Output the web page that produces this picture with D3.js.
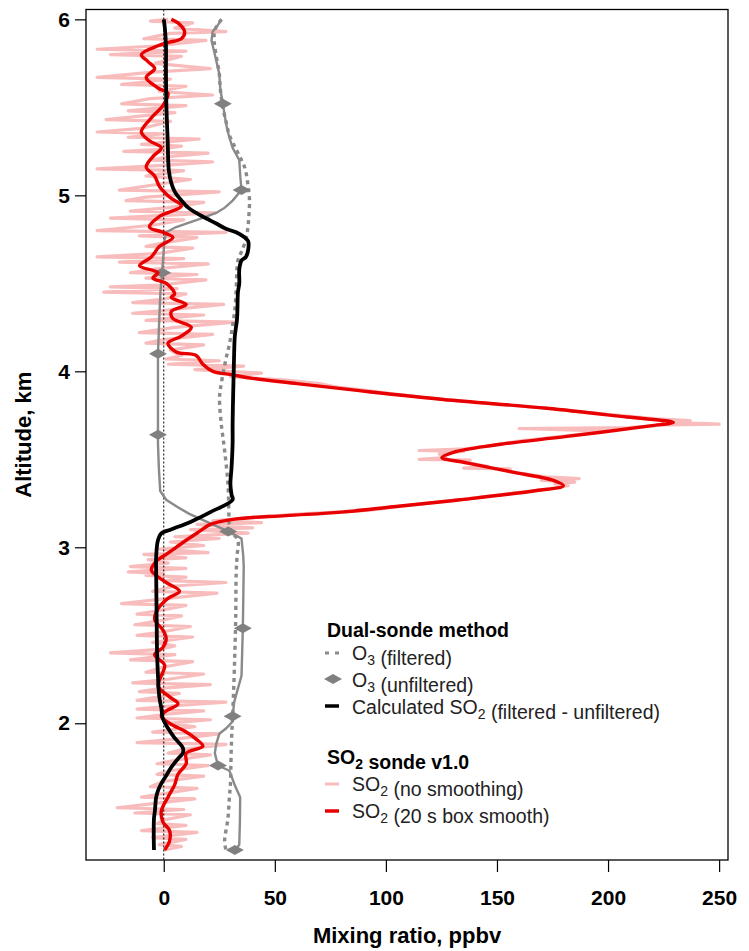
<!DOCTYPE html>
<html>
<head>
<meta charset="utf-8">
<script src="https://cdn.jsdelivr.net/npm/d3@7"></script>
<style>
  body { margin: 0; background: #fff; }
  svg { font-family: "Liberation Sans", Arial, sans-serif; }
</style>
</head>
<body>
<svg id="chart" width="749" height="951"></svg>
<script>
// altitude (km), mixing ratio (ppbv)
var so2Raw = [
  [6.00, 2], [5.99, -6], [5.98, 13], [5.95, 5], [5.93, 28], [5.92, 3], [5.89, -9], [5.88, 19], [5.85, -2], [5.83, -30],
  [5.82, 10], [5.80, -24], [5.79, 8], [5.75, -4], [5.72, 21], [5.70, -5], [5.67, -30], [5.66, 3], [5.63, -19], [5.62, 10],
  [5.59, -2], [5.57, 22], [5.55, -6], [5.52, -19], [5.51, 10], [5.48, -16], [5.47, 5], [5.43, -26], [5.42, 3], [5.38, -10],
  [5.36, -30], [5.35, 0], [5.33, -16], [5.32, 16], [5.29, -10], [5.28, 8], [5.26, -3],
  [5.25, -18], [5.24, 20], [5.22, 2], [5.20, -5], [5.19, 22], [5.17, 0], [5.15, -30], [5.14, 9], [5.11, -8], [5.09, 12],
  [5.06, -4], [5.03, -20], [5.02, 25], [4.99, -8], [4.97, -17], [4.96, 18], [4.93, 2], [4.91, -15], [4.90, 23], [4.87, -24],
  [4.86, 9], [4.83, -5], [4.80, -30], [4.79, 28], [4.77, -11], [4.76, 15], [4.73, 0], [4.71, -8], [4.70, 13], [4.67, -2],
  [4.65, -30], [4.64, 9], [4.62, -20], [4.61, 20], [4.58, -5], [4.56, -15], [4.55, 15], [4.53, -8], [4.52, 19], [4.49, -2],
  [4.48, -24], [4.47, 6],
  [4.45, -27], [4.44, 10], [4.41, 0], [4.39, -14], [4.38, 27], [4.35, 3], [4.33, -14], [4.32, 18], [4.29, -8], [4.28, 32],
  [4.25, 5], [4.22, -11], [4.21, 22], [4.18, 0], [4.16, -8], [4.15, 18], [4.12, 3], [4.09, 8], [4.07, 1], [4.06, 25],
  [4.04, 2], [4.03, 36], [4.01, 14], [3.99, 44], [3.97, 30], [3.95, 55], [3.93, 70],
  [3.91, 78], [3.89, 92], [3.87, 104], [3.85, 118], [3.83, 135], [3.81, 152], [3.79, 172], [3.77, 188], [3.75, 205],
  [3.73, 222], [3.72, 237], [3.71, 229], [3.70, 250], [3.695, 226], [3.68, 209], [3.675, 160], [3.66, 200], [3.64, 186],
  [3.62, 172], [3.60, 158], [3.58, 148], [3.56, 136], [3.55, 115], [3.545, 135], [3.53, 124], [3.51, 127], [3.50, 115],
  [3.495, 138], [3.48, 136], [3.46, 146], [3.45, 135], [3.445, 156], [3.43, 156], [3.41, 166], [3.40, 172], [3.39, 187],
  [3.38, 170], [3.37, 185], [3.36, 176], [3.35, 182], [3.33, 172], [3.31, 158], [3.29, 146], [3.27, 132], [3.25, 118],
  [3.23, 104], [3.21, 92], [3.19, 62], [3.17, 40], [3.15, 22],
  [3.14, 44], [3.13, 15], [3.11, 40], [3.10, 12], [3.08, 38], [3.06, 5], [3.05, 25], [3.03, 3], [3.01, 18], [2.99, -2],
  [2.97, 20], [2.96, -9], [2.94, 10], [2.93, -7], [2.91, 2], [2.89, -15], [2.88, 10], [2.86, -16], [2.85, 0],
  [2.84, -8], [2.83, 10], [2.81, 1], [2.80, 28], [2.78, 5], [2.75, -5], [2.74, 24], [2.71, 2], [2.68, -19], [2.67, 10],
  [2.64, -2], [2.62, -12], [2.61, 8], [2.58, -3], [2.56, -13], [2.55, 12], [2.52, 0], [2.50, -12], [2.49, 13], [2.46, -5],
  [2.44, 5], [2.42, -2], [2.40, -24], [2.39, 5], [2.36, -15], [2.35, 13], [2.32, 0], [2.29, -8], [2.28, 18], [2.25, 2],
  [2.23, -14], [2.22, 21], [2.20, 0], [2.18, -11], [2.17, 7], [2.15, -2], [2.13, -12], [2.12, 28], [2.10, 5], [2.08, -12],
  [2.07, 18], [2.05, 0],
  [2.03, -12], [2.02, 21], [2.00, 2], [1.98, 14], [1.95, -5], [1.94, 25], [1.91, 5], [1.89, -12], [1.88, 28], [1.85, 8],
  [1.83, 2], [1.82, 21], [1.79, 5], [1.77, -3], [1.76, 20], [1.73, 3], [1.71, -3], [1.70, 18], [1.67, 0], [1.64, -6],
  [1.63, 15], [1.60, 0], [1.58, -10], [1.57, 14], [1.55, 0], [1.52, -21], [1.51, 9], [1.49, -13], [1.48, 12], [1.45, 0],
  [1.43, -3], [1.42, 10], [1.39, -10], [1.38, 15], [1.35, -5], [1.34, 10], [1.31, -2], [1.30, 8], [1.28, 0]
];

var so2Smooth = [
  [6.00, 3.4], [5.98, 6.4], [5.93, 9.4], [5.89, 7.9], [5.87, 2.6], [5.85, -2.6], [5.80, -10.1], [5.76, -7.1], [5.72, -4.1],
  [5.67, -7.9], [5.61, -2.6], [5.58, 1.9], [5.51, -0.4], [5.44, -5.6], [5.36, -10.1], [5.31, -6.4], [5.27, -1.1],
  [5.22, -4.9], [5.16, -7.9], [5.11, -4.1], [5.05, -1.9], [4.99, 2.6], [4.94, 7.9], [4.88, -1.9], [4.82, -6.4],
  [4.79, -0.4], [4.76, 4.1], [4.71, -1.9], [4.65, -5.6], [4.60, -10.9], [4.56, -2.6], [4.53, -4.9], [4.50, 1.1],
  [4.44, 4.9], [4.42, 3.4], [4.38, 10.1], [4.34, 3.4], [4.30, 4.1], [4.25, 12.4], [4.20, 7.9], [4.16, 1.9], [4.11, 5.6],
  [4.09, 14.6], [4.04, 17.6], [4.00, 22.1], [3.98, 31], [3.96, 40], [3.93, 60], [3.89, 88], [3.84, 125.8], [3.79, 172.5],
  [3.74, 208.5], [3.71, 229.4], [3.69, 219], [3.63, 181.5], [3.58, 148.4], [3.54, 130.4], [3.51, 125.2], [3.48, 136.4],
  [3.43, 155.9], [3.38, 175.4], [3.35, 179.9], [3.32, 166.4], [3.27, 133.4], [3.23, 103.4], [3.20, 80], [3.18, 55],
  [3.16, 32], [3.13, 21], [3.09, 16.1], [3.04, 10.1], [3.00, 5.6], [2.96, 1.1], [2.92, -3.4], [2.87, -5.6], [2.84, -3.4],
  [2.80, 1.1], [2.75, 7.1], [2.71, 1.9], [2.65, -2.6], [2.59, -4.1], [2.53, -0.4], [2.48, 1.1], [2.43, -0.4], [2.39, -4.1],
  [2.33, 0.4], [2.27, -1.1], [2.21, -2.6], [2.15, 2.6], [2.11, 6.4], [2.07, 1.1], [2.04, -1.1], [2.00, 2.6], [1.95, 10.1],
  [1.91, 14.6], [1.87, 17.6], [1.83, 10.1], [1.77, 10.1], [1.71, 6.4], [1.65, 4.9], [1.58, 1.9], [1.50, -1.1],
  [1.44, -0.4], [1.39, 2.6], [1.33, 2.6], [1.28, 0.4]
];

var so2Calc = [
  [6.00, 0], [5.95, 0.5], [5.85, 1], [5.70, 1], [5.50, 1.2], [5.30, 1.8], [5.20, 2], [5.14, 2.3], [5.07, 3.4], [5.02, 5],
  [4.97, 8], [4.93, 11], [4.90, 14.6], [4.87, 19], [4.84, 23.6], [4.81, 28], [4.79, 32.6], [4.76, 36.5], [4.74, 38],
  [4.69, 38], [4.65, 37], [4.63, 35], [4.58, 34], [4.50, 34], [4.45, 33.4], [4.30, 33], [4.20, 32], [4.11, 31.7],
  [4.00, 31.5], [3.90, 31.3], [3.70, 31], [3.59, 31], [3.45, 30.5], [3.36, 30], [3.30, 30.5], [3.27, 31], [3.20, 21],
  [3.15, 13], [3.10, 3], [3.08, -1], [3.04, -2.6], [2.95, -3.4], [2.84, -3.4], [2.60, -3.2], [2.40, -3], [2.27, -2.6],
  [2.15, -2], [2.08, -1], [2.03, -0.5], [1.97, 2], [1.92, 4.7], [1.86, 8.6], [1.83, 8.6], [1.80, 6.5], [1.75, 3.4],
  [1.70, 1], [1.66, -1], [1.62, -2.5], [1.58, -3.4], [1.50, -4], [1.46, -4.4], [1.35, -4.5], [1.28, -4.4]
];

var o3Filtered = [
  [6.00, 26], [5.94, 23], [5.88, 22.7], [5.80, 23.5], [5.69, 25], [5.60, 25.5], [5.50, 26.6], [5.42, 28], [5.34, 29.6],
  [5.25, 33], [5.16, 36.4], [5.05, 38], [4.97, 38.6], [4.88, 38.3], [4.82, 37.9], [4.75, 37], [4.68, 35], [4.63, 33.4],
  [4.46, 32.6], [4.35, 32], [4.26, 31], [4.15, 29.5], [4.07, 28], [3.98, 26.6], [3.90, 25.5], [3.84, 25.1], [3.70, 25.9],
  [3.55, 27.4], [3.36, 28.9], [3.20, 29.3], [3.12, 29.6], [3.08, 31], [3.04, 33.4], [2.95, 33], [2.85, 32.6], [2.60, 32.4],
  [2.40, 32], [2.20, 31.5], [2.04, 31], [1.90, 30.5], [1.75, 30.2], [1.65, 30], [1.59, 29.6], [1.46, 28.9], [1.33, 27.4],
  [1.28, 28]
];

var o3Unfiltered = [
  [6.00, 26], [5.96, 24], [5.93, 22], [5.88, 21.5], [5.80, 23], [5.69, 25], [5.60, 25.5], [5.52, 26.6], [5.45, 27.5],
  [5.38, 28.5], [5.33, 29.5], [5.27, 31], [5.20, 34], [5.10, 34.5], [5.03, 35], [4.97, 31], [4.93, 27.5], [4.90, 23.6],
  [4.86, 15], [4.82, 5.6], [4.79, 1.1], [4.74, 0.3], [4.69, 0], [4.62, -0.4], [4.56, -0.7], [4.45, -1.5], [4.30, -2],
  [4.10, -2.6], [3.90, -2.6], [3.64, -2.6], [3.59, -2.6], [3.45, -2.2], [3.32, -1.6], [3.27, 1.1], [3.23, 6], [3.19, 11.5],
  [3.13, 22], [3.09, 29], [3.05, 35], [2.95, 35.8], [2.89, 36], [2.70, 35.8], [2.54, 35.6], [2.40, 35.3], [2.27, 35],
  [2.18, 33], [2.12, 31.7], [2.04, 31], [2.01, 31], [1.97, 28], [1.94, 25], [1.88, 23.6], [1.83, 23], [1.76, 24.4],
  [1.73, 29.6], [1.65, 31.9], [1.58, 34.4], [1.45, 34.3], [1.31, 34], [1.28, 32]
];

var o3UnfilteredMarkers = [
  [5.52, 26.6], [5.03, 35], [4.56, -0.7], [4.10, -2.6], [3.64, -2.6], [3.09, 29], [2.54, 35.6], [2.04, 31], [1.76, 24.4], [1.28, 32]
];

var xTicks = [0, 50, 100, 150, 200, 250];
var yTicks = [2, 3, 4, 5, 6];

var svg = d3.select("svg#chart");

var margin = { top: 9.5, right: 21, bottom: 91, left: 86 };
var plotWidth = 749 - margin.left - margin.right;
var plotHeight = 951 - margin.top - margin.bottom;

var xScale = d3.scaleLinear().domain([-35, 254]).range([0, plotWidth]);
var yScale = d3.scaleLinear().domain([1.223, 6.056]).range([plotHeight, 0]);

var plot = svg.append("g")
    .attr("id", "plot")
    .attr("transform", "translate(" + margin.left + "," + margin.top + ")");

plot.append("clipPath").attr("id", "clip")
    .append("rect").attr("width", plotWidth).attr("height", plotHeight);

var layer = plot.append("g").attr("clip-path", "url(#clip)");

function profile(curve) {
    return d3.line()
        .x(function (d) { return xScale(d[1]); })
        .y(function (d) { return yScale(d[0]); })
        .curve(curve || d3.curveLinear);
}

// raw SO2
layer.append("path")
    .datum(so2Raw)
    .attr("d", profile())
    .attr("fill", "none")
    .attr("stroke", "#f8bcbc")
    .attr("stroke-width", 3.2)
    .attr("stroke-linejoin", "round");

// zero line
layer.append("line")
    .attr("x1", xScale(0)).attr("x2", xScale(0))
    .attr("y1", 0).attr("y2", plotHeight)
    .attr("stroke", "#000")
    .attr("stroke-width", 1)
    .attr("stroke-dasharray", "2,2");

// O3 filtered
layer.append("path")
    .datum(o3Filtered)
    .attr("d", profile(d3.curveCatmullRom))
    .attr("fill", "none")
    .attr("stroke", "#8a8a8a")
    .attr("stroke-width", 3.4)
    .attr("stroke-dasharray", "4,4");

// O3 unfiltered
layer.append("path")
    .datum(o3Unfiltered)
    .attr("d", profile())
    .attr("fill", "none")
    .attr("stroke", "#8a8a8a")
    .attr("stroke-width", 2.4);

var diamond = "M-9,0L0,-5L9,0L0,5Z";
layer.selectAll("path.marker")
    .data(o3UnfilteredMarkers)
    .enter().append("path")
    .attr("class", "marker")
    .attr("d", diamond)
    .attr("transform", function (d) { return "translate(" + xScale(d[1]) + "," + yScale(d[0]) + ")"; })
    .attr("fill", "#808080");

// SO2 smoothed
layer.append("path")
    .datum(so2Smooth)
    .attr("d", profile(d3.curveCatmullRom))
    .attr("fill", "none")
    .attr("stroke", "#e80000")
    .attr("stroke-width", 3.4)
    .attr("stroke-linejoin", "round");

// calculated SO2
layer.append("path")
    .datum(so2Calc)
    .attr("d", profile(d3.curveCatmullRom))
    .attr("fill", "none")
    .attr("stroke", "#000")
    .attr("stroke-width", 3.8)
    .attr("stroke-linejoin", "round");

// box
plot.append("rect")
    .attr("width", plotWidth)
    .attr("height", plotHeight)
    .attr("fill", "none")
    .attr("stroke", "#000")
    .attr("stroke-width", 1.3);

var yAxis = d3.axisLeft(yScale).tickValues(yTicks).tickSize(11).tickPadding(5).tickFormat(d3.format("d"));
var xAxis = d3.axisBottom(xScale).tickValues(xTicks).tickSize(12).tickPadding(18).tickFormat(d3.format("d"));

var yGroup = plot.append("g").attr("id", "y-axis").call(yAxis);
var xGroup = plot.append("g").attr("id", "x-axis")
    .attr("transform", "translate(0," + plotHeight + ")")
    .call(xAxis);

[yGroup, xGroup].forEach(function (g) {
    g.select(".domain").remove();
    g.selectAll(".tick line").attr("stroke", "#000").attr("stroke-width", 1.2);
    g.selectAll(".tick text")
        .attr("fill", "#000")
        .style("font-size", "21px")
        .style("font-weight", "bold")
        .style("font-family", "'Liberation Sans', Arial, sans-serif");
});

plot.append("text")
    .attr("transform", "translate(" + (plotWidth / 2) + "," + (plotHeight + 83) + ")")
    .style("text-anchor", "middle")
    .style("font-size", "22px")
    .style("font-weight", "bold")
    .text("Mixing ratio, ppbv");

plot.append("text")
    .attr("transform", "translate(-55," + (plotHeight / 2) + ") rotate(-90)")
    .style("text-anchor", "middle")
    .style("font-size", "22px")
    .style("font-weight", "bold")
    .text("Altitude, km");

// legend
var legend = svg.append("g").attr("id", "legend");
var symX = 325, textX = 352;

function addLabel(y, parts, bold) {
    var t = legend.append("text")
        .attr("x", bold ? symX + 2 : textX)
        .attr("y", y)
        .style("font-size", "19.5px")
        .style("font-weight", bold ? "bold" : "normal")
        .attr("fill", bold ? "#000" : "#222");
    parts.forEach(function (p) {
        if (p.sub) {
            t.append("tspan").attr("dy", 5).style("font-size", "14px").text(p.sub);
            t.append("tspan").attr("dy", -5).text("");
        } else {
            t.append("tspan").text(p.t);
        }
    });
}

addLabel(637, [{ t: "Dual-sonde method" }], true);
addLabel(660, [{ t: "O" }, { sub: "3" }, { t: " (filtered)" }]);
addLabel(687, [{ t: "O" }, { sub: "3" }, { t: " (unfiltered)" }]);
addLabel(714, [{ t: "Calculated SO" }, { sub: "2" }, { t: " (filtered - unfiltered)" }]);
addLabel(764, [{ t: "SO" }, { sub: "2" }, { t: " sonde v1.0" }], true);
addLabel(791, [{ t: "SO" }, { sub: "2" }, { t: " (no smoothing)" }]);
addLabel(818, [{ t: "SO" }, { sub: "2" }, { t: " (20 s box smooth)" }]);

legend.append("line")
    .attr("x1", symX).attr("x2", symX + 15).attr("y1", 653).attr("y2", 653)
    .attr("stroke", "#8a8a8a").attr("stroke-width", 3).attr("stroke-dasharray", "4,6");
legend.append("path")
    .attr("d", diamond)
    .attr("transform", "translate(" + (symX + 8) + ",679)")
    .attr("fill", "#808080");
legend.append("line")
    .attr("x1", symX).attr("x2", symX + 14).attr("y1", 706).attr("y2", 706)
    .attr("stroke", "#000").attr("stroke-width", 3.5);
legend.append("line")
    .attr("x1", symX).attr("x2", symX + 14).attr("y1", 784).attr("y2", 784)
    .attr("stroke", "#f8bcbc").attr("stroke-width", 3);
legend.append("line")
    .attr("x1", symX).attr("x2", symX + 14).attr("y1", 811).attr("y2", 811)
    .attr("stroke", "#e80000").attr("stroke-width", 3.5);
</script>
</body>
</html>
